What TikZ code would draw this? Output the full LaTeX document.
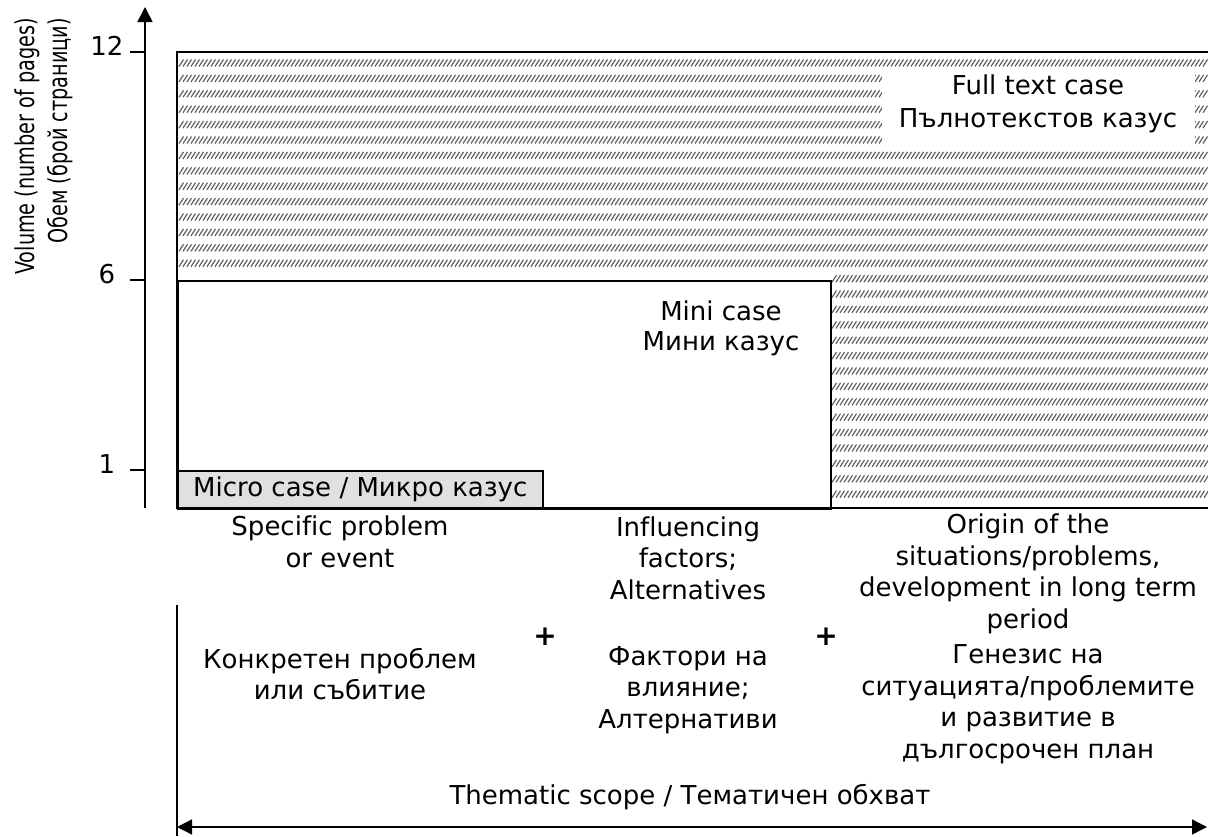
\documentclass[tikz,border=0pt]{standalone}
\usepackage{fontspec}
\setmainfont{DejaVu Sans}[Ligatures=CommonOff]
\usetikzlibrary{arrows.meta}

\tikzset{mytip/.tip={Triangle[width=15pt,length=15pt]}}

\begin{document}
\begin{tikzpicture}[x=1pt,y=-1pt,
  every node/.style={font=\fontsize{26}{31.5}\selectfont, inner sep=0pt},
  frame/.style={line width=1.6pt},
  thin/.style={line width=1.3pt},
  hatch/.style={draw=black!62, line width=1.2pt},
  txt/.style={align=center}]
\useasboundingbox (0,0) rectangle (1208,836);

% hatched full-text area
\foreach \k in {0,...,28}{
  \pgfmathsetmacro\yy{63+\k*15.4}
  \pgfmathsetmacro\xs{\yy<272 ? 179 : 832}
  \pgfmathsetmacro\xsb{\xs+4}
  \draw[hatch] \foreach \xx in {\xs,\xsb,...,1204} {(\xx,\yy+3.5) -- ++(4.5,-7)};
}
\node[fill=white, minimum width=313pt, minimum height=78pt] (fullbox) at (1038,111) {};
\node[txt, font=\fontsize{26}{33}\selectfont] (full) at (1038,104) {Full text case\\Пълнотекстов казус};

% mini case
\node[draw, frame, fill=white, minimum width=653pt, minimum height=228pt, anchor=north west] (mini) at (177,280) {};
\node[txt, font=\fontsize{26}{30}\selectfont] (minilab) at (721,328) {Mini case\\Мини казус};

% micro case
\node[draw, frame, fill=black!12, minimum width=365pt, minimum height=38pt, anchor=north west] (micro) at (177,470) {};
\node (microlab) at (micro.center) {Micro case / Микро казус};

% frame of large area
\coordinate (tr) at (1208,52);
\coordinate (tl) at (177,52);
\coordinate (bl) at (177,508);
\coordinate (br) at (1208,508);
\draw[frame] (tr) -- (tl) -- (bl) -- (br);

% y axis
\coordinate (ybot) at (145,508);
\coordinate (ytop) at (145,7);
\draw[frame, -{mytip}] (ybot) -- (ytop);
\foreach \v/\y in {12/52, 6/280, 1/470}{
  \coordinate (t\v a) at (130,\y);
  \coordinate (t\v b) at (145,\y);
  \draw[frame] (t\v a) -- (t\v b);
  \node (lab\v) at (107,\y-6) {\v};
}

\node[rotate=90, xscale=0.74, align=right, anchor=north east,
  font=\fontsize{26}{33}\selectfont] (ylab) at (15,18) {Volume (number of pages)\\Обем (брой страници)};

% bottom texts
\node[txt] (e1) at (340,542) {Specific problem\\or event};
\node[txt] (e2) at (688,558) {Influencing\\factors;\\Alternatives};
\node[txt] (e3) at (1028,574) {Origin of the\\situations/problems,\\development in long term\\period};

\node[txt] (b1) at (340,674) {Конкретен проблем\\или събитие};
\node[txt] (b2) at (688,690) {Фактори на\\влияние;\\Алтернативи};
\node[txt] (b3) at (1028,704) {Генезис на\\ситуацията/проблемите\\и развитие в\\дългосрочен план};

\node[font=\fontsize{28}{30}\selectfont\bfseries] (p1) at (545,637) {+};
\node[font=\fontsize{28}{30}\selectfont\bfseries] (p2) at (826,637) {+};

% thematic scope
\coordinate (vt) at (177,605);
\coordinate (vb) at (177,836);
\draw[thin] (vt) -- (vb);
\node (scope) at (690,797) {Thematic scope / Тематичен обхват};
\coordinate (arL) at (177,827);
\coordinate (arR) at (1207,827);
\draw[thin, {mytip}-{mytip}] (arL) -- (arR);
\end{tikzpicture}
\end{document}
